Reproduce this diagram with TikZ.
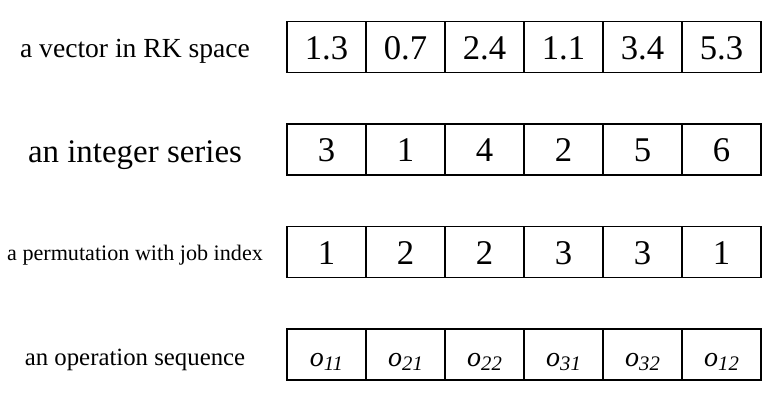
\documentclass[tikz,border=0pt]{standalone}
\usepackage{fontspec}
\setmainfont{Liberation Serif}
\usepackage{tikz}

% italic operation with lowered index
\newcommand{\opidx}[1]{{\fontsize{21}{21}\selectfont\itshape o}\raisebox{-3.2pt}{\fontsize{15.5}{15.5}\selectfont\itshape #1}}

\tikzset{
  cell/.style={draw, line width=1pt, minimum width=59.25pt, minimum height=38.25pt,
    inner sep=0pt, text height=18pt, text depth=0pt, font=\fontsize{26}{26}\selectfont},
  rowlabel/.style={anchor=base, inner sep=0pt}
}

\begin{document}
\begin{tikzpicture}[x=0.75pt,y=0.75pt,yscale=-1,xscale=1]
\useasboundingbox (0,0) rectangle (777,405);

% Row 1: real vector
\foreach \v [count=\i] in {1.3,0.7,2.4,1.1,3.4,5.3}
  \node[cell] (vec\i) at ({287+79*\i-39.5},47) {\v};
% Row 2: integer series
\foreach \v [count=\i] in {3,1,4,2,5,6}
  \node[cell] (int\i) at ({287+79*\i-39.5},149.5) {\v};
% Row 3: job permutation
\foreach \v [count=\i] in {1,2,2,3,3,1}
  \node[cell] (job\i) at ({287+79*\i-39.5},252) {\v};
% Row 4: operation sequence
\foreach \v [count=\i] in {11,21,22,31,32,12}
  \node[cell] (op\i) at ({287+79*\i-39.5},354.5) {\opidx{\v}};

% Text Node
\node[rowlabel, font=\fontsize{20.7}{20.7}\selectfont] (lblvec) at (135,57) {a vector in RK space};
% Text Node
\node[rowlabel, font=\fontsize{24.7}{24.7}\selectfont] (lblint) at (135,162) {an integer series};
% Text Node
\node[rowlabel, font=\fontsize{16.6}{16.6}\selectfont] (lbljob) at (135,260) {a permutation with job index};
% Text Node
\node[rowlabel, font=\fontsize{18.6}{18.6}\selectfont] (lblop) at (135,365) {an operation sequence};

\end{tikzpicture}
\end{document}
